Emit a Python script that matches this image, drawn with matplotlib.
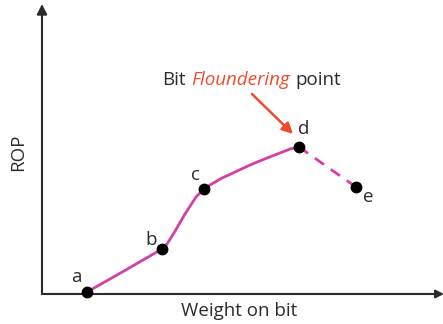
import matplotlib
matplotlib.use('Agg')
import matplotlib.pyplot as plt

plt.rcParams['font.family'] = ['Open Sans', 'DejaVu Sans']

# 点位（从图中读取，单位随意）
labels = ['a', 'b', 'c', 'd', 'e']
wob = [45, 120, 162, 257, 314]
rop = [2, 45, 105, 147, 107]

# 曲线描点 a -> d（实线）
curve_x = [45, 82, 120, 125, 132, 143, 154, 162, 168, 180, 191, 208, 225, 238, 248, 257]
curve_y = [2, 23, 45, 50, 61, 80, 97, 105, 109, 116, 121, 129, 136, 141, 145, 147]
# d -> e 虚线
drop_x = [257, 314]
drop_y = [147, 107]

# 标签偏移（像素）
label_off = [(-11, 15), (-11, 9), (-9, 14), (5, 18), (12, -10)]

pink = '#d63fa6'
red = '#f04a2c'
dark = '#2b2b2b'
fs = 13.5

fig = plt.figure(figsize=(4.43, 3.24), dpi=100)
ax = fig.add_axes([42 / 443, 30 / 324, 401 / 443, 284 / 324])
ax.set_xlim(0, 401)
ax.set_ylim(0, 284)
ax.axis('off')

# 坐标轴和箭头
ax.annotate('', xy=(0, 290), xytext=(0, 0), annotation_clip=False,
            arrowprops=dict(arrowstyle='-|>', color=dark, lw=1.5,
                            mutation_scale=15, shrinkA=0, shrinkB=0))
ax.annotate('', xy=(402, 0), xytext=(0, 0), annotation_clip=False,
            arrowprops=dict(arrowstyle='-|>', color=dark, lw=1.5,
                            mutation_scale=12, shrinkA=0, shrinkB=0))

ax.plot(curve_x, curve_y, color=pink, lw=2, solid_capstyle='round',
        solid_joinstyle='round', zorder=2)
ax.plot(drop_x, drop_y, color=pink, lw=2, dashes=(4, 3), zorder=2)
ax.plot(wob, rop, 'o', color='black', ms=7.5, zorder=3, clip_on=False)

for lab, x, y, (dx, dy) in zip(labels, wob, rop, label_off):
    ax.annotate(lab, (x, y), xytext=(dx, dy), textcoords='offset pixels',
                ha='center', va='center', fontsize=fs, color=dark)

# 标注
t1 = ax.text(120, 209, 'Bit', ha='left', va='baseline', fontsize=fs, color=dark)
t2 = ax.annotate('Floundering', xy=(1, 0), xycoords=t1, xytext=(6, 0),
                 textcoords='offset pixels', ha='left', va='bottom',
                 fontsize=fs, color=red, style='italic')
ax.annotate('point', xy=(1, 0), xycoords=t2, xytext=(5, 0),
            textcoords='offset pixels', ha='left', va='bottom',
            fontsize=fs, color=dark)
ax.annotate('', xy=(251, 160), xytext=(210, 200),
            arrowprops=dict(arrowstyle='-|>', color=red, lw=1.8,
                            mutation_scale=16, shrinkA=0, shrinkB=0))

fig.text(239 / 443, 1 - 311 / 324, 'Weight on bit', ha='center', va='center',
         fontsize=fs, color=dark)
fig.text(18 / 443, 1 - 152 / 324, 'ROP', ha='center', va='center',
         fontsize=fs, color=dark, rotation=90)

fig.savefig('out.png', dpi=100)
